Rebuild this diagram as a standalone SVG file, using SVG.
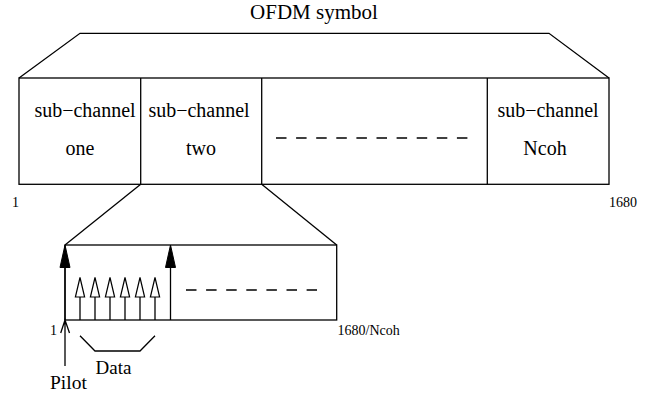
<svg xmlns="http://www.w3.org/2000/svg" xmlns:xlink="http://www.w3.org/1999/xlink" width="660" height="394" viewBox="0 0 660 394">
<style>
.ln{fill:none;stroke:#000;stroke-width:1.3}
.dash{fill:none;stroke:#000;stroke-width:1.3;stroke-dasharray:10.5 9.6}
.big{font-family:"Liberation Serif","Times New Roman",serif;font-size:20px;fill:#000}
.title{font-family:"Liberation Serif","Times New Roman",serif;font-size:21px;fill:#000}
.sm{font-family:"Liberation Serif","Times New Roman",serif;font-size:14px;fill:#000}
.fh{fill:#000;stroke:#000;stroke-width:1}
.hh{fill:#fff;stroke:#000;stroke-width:1.2}
</style>
<defs>
<path id="filled" class="fh" d="M0,0 L5,22.5 L-5,22.5 Z"/>
<path id="hollow" class="hh" d="M0,0 L4.6,19.5 L-4.6,19.5 Z"/>
</defs>
<rect width="660" height="394" fill="#fff"/>

<g id="title">
<text class="title" x="314" y="19" text-anchor="middle">OFDM symbol</text>
</g>

<g id="ofdm-symbol">
<rect class="ln" x="19" y="78" width="590" height="106.3"/>
<line class="ln" x1="140.7" y1="78" x2="140.7" y2="184.3"/>
<line class="ln" x1="261.7" y1="78" x2="261.7" y2="184.3"/>
<line class="ln" x1="487.3" y1="78" x2="487.3" y2="184.3"/>
<text class="big" x="85" y="116.7" text-anchor="middle">sub−channel</text>
<text class="big" x="80" y="155" text-anchor="middle">one</text>
<text class="big" x="199" y="116.7" text-anchor="middle">sub−channel</text>
<text class="big" x="201" y="155" text-anchor="middle">two</text>
<line class="dash" x1="276" y1="138" x2="469" y2="138"/>
<text class="big" x="548" y="116.7" text-anchor="middle">sub−channel</text>
<text class="big" x="545" y="155" text-anchor="middle">Ncoh</text>
<text class="sm" x="12" y="207">1</text>
<text class="sm" x="609" y="207">1680</text>
</g>

<g id="sub-channel-detail">
<rect class="ln" x="65" y="245" width="271.7" height="75"/>
<line class="dash" x1="186" y1="290" x2="317" y2="290"/>
<text class="sm" x="337.5" y="335">1680/Ncoh</text>
<text class="sm" x="50" y="335">1</text>
</g>

<g id="pilots">
<line class="ln" x1="65" y1="320" x2="65" y2="262"/>
<use xlink:href="#filled" x="65" y="245"/>
<line class="ln" x1="170.5" y1="320" x2="170.5" y2="262"/>
<use xlink:href="#filled" x="170.5" y="245"/>
</g>

<g id="data">
<line class="ln" x1="80" y1="320" x2="80" y2="296"/>
<use xlink:href="#hollow" x="80" y="277.5"/>
<line class="ln" x1="95" y1="320" x2="95" y2="296"/>
<use xlink:href="#hollow" x="95" y="277.5"/>
<line class="ln" x1="110" y1="320" x2="110" y2="296"/>
<use xlink:href="#hollow" x="110" y="277.5"/>
<line class="ln" x1="125" y1="320" x2="125" y2="296"/>
<use xlink:href="#hollow" x="125" y="277.5"/>
<line class="ln" x1="140" y1="320" x2="140" y2="296"/>
<use xlink:href="#hollow" x="140" y="277.5"/>
<line class="ln" x1="155" y1="320" x2="155" y2="296"/>
<use xlink:href="#hollow" x="155" y="277.5"/>
</g>

<g id="labels">
<path class="ln" d="M60.7,333 L65,320 L69.5,333 M65,320 L65,366"/>
<text class="big" x="50" y="389" style="font-size:19.5px">Pilot</text>
<path class="ln" d="M80,335.7 L95,351 L140,351 L155,335.7"/>
<text class="big" x="95.5" y="373.5" style="font-size:19px">Data</text>
</g>

<g id="connectors">
<path class="ln" d="M19,78 L80,33.3 L549,33.3 L609,78"/>
<line class="ln" x1="140.7" y1="184.3" x2="65" y2="245"/>
<line class="ln" x1="261.7" y1="184.3" x2="336.7" y2="245"/>
</g>
</svg>
